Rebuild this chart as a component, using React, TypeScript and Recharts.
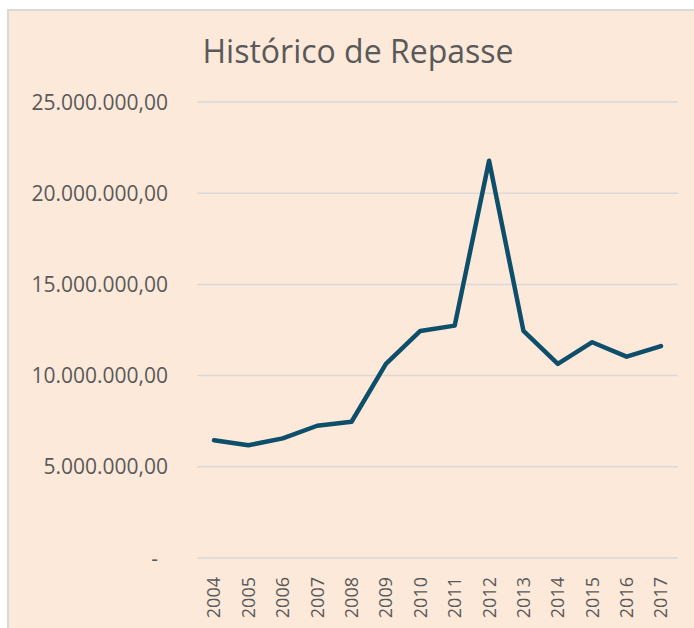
import { CartesianGrid, Line, LineChart, XAxis, YAxis } from 'recharts'

const years = ['2004', '2005', '2006', '2007', '2008', '2009', '2010', '2011', '2012', '2013', '2014', '2015', '2016', '2017']
const repasse = [6450000, 6180000, 6560000, 7250000, 7470000, 10640000, 12450000, 12740000, 21780000, 12450000, 10640000, 11830000, 11040000, 11620000]
const yTicks = [0, 5000000, 10000000, 15000000, 20000000, 25000000]

const data = years.map((year, i) => ({ year, repasse: repasse[i] }))

const textColor = '#595959'
const font = '"Open Sans", sans-serif'

function formatBRL(value: number) {
  if (value === 0) return '-'
  return value.toLocaleString('pt-BR', { minimumFractionDigits: 2, maximumFractionDigits: 2 })
}

function YTick(props: any) {
  const { x, y, payload } = props
  const isZero = payload.value === 0
  return (
    <text
      x={x}
      y={y}
      dx={isZero ? -10 : 0}
      dy="0.36em"
      textAnchor="end"
      fill={textColor}
      fontSize={21}
      fontFamily={font}
    >
      {formatBRL(payload.value)}
    </text>
  )
}

function XTick(props: any) {
  const { x, y, payload } = props
  return (
    <text
      transform={`translate(${x},${y}) rotate(-90)`}
      textAnchor="end"
      dy="0.36em"
      fill={textColor}
      fontSize={18}
      fontFamily={font}
    >
      {payload.value}
    </text>
  )
}

export default function App() {
  return (
    <div style={{ position: 'fixed', left: 0, top: 0, width: 694, height: 628, background: '#fff', overflow: 'hidden' }}>
      <div
        style={{
          position: 'absolute',
          left: 7,
          top: 9,
          width: 700,
          height: 660,
          border: '2px solid #D9D9D9',
          background: '#FCE9DA',
        }}
      />
      <svg width={694} height={100} style={{ position: 'absolute', left: 0, top: 0 }}>
        <text x={358} y={63} textAnchor="middle" fill={textColor} fontSize={32} fontFamily={font}>
          Histórico de Repasse
        </text>
      </svg>
      <div style={{ position: 'absolute', left: 0, top: 0 }}>
        <LineChart width={694} height={628} data={data} margin={{ top: 102, right: 16, left: 0, bottom: 0 }}>
          <CartesianGrid vertical={false} stroke="#D9D9D9" strokeWidth={1.5} />
          <XAxis
            dataKey="year"
            axisLine={false}
            tickLine={false}
            tickSize={0}
            tickMargin={19}
            height={70}
            interval={0}
            padding={{ left: 17, right: 17 }}
            tick={<XTick />}
          />
          <YAxis
            domain={[0, 25000000]}
            ticks={yTicks}
            axisLine={false}
            tickLine={false}
            tickSize={0}
            tickMargin={29}
            width={197}
            tick={<YTick />}
          />
          <Line
            type="linear"
            dataKey="repasse"
            stroke="#0D4F6B"
            strokeWidth={4.5}
            strokeLinejoin="round"
            strokeLinecap="round"
            dot={false}
            isAnimationActive={false}
          />
        </LineChart>
      </div>
    </div>
  )
}
